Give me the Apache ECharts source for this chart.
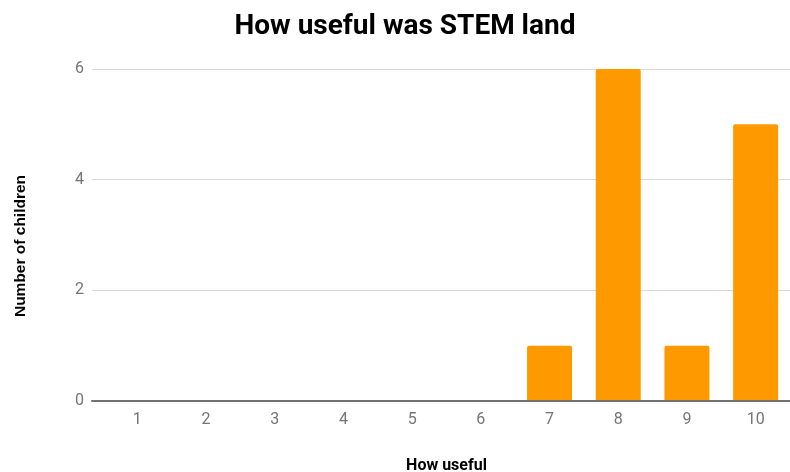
<!DOCTYPE html>
<html>
<head>
<meta charset="utf-8">
<script src="https://cdn.jsdelivr.net/npm/echarts@6/dist/echarts.min.js"></script>
<style>
  html, body { margin: 0; padding: 0; background: #fff; }
  #chart { width: 790px; height: 472px; }
</style>
</head>
<body>
<div id="chart"></div>
<script>
// data
const categories = ['1', '2', '3', '4', '5', '6', '7', '8', '9', '10'];
const childCounts = [0, 0, 0, 0, 0, 0, 1, 6, 1, 5];
const yTicks = [0, 2, 4, 6];

const chart = echarts.init(document.getElementById('chart'));

const option = {
    animation: false,
    textStyle: { fontFamily: 'Roboto' },
    title: {
        text: 'How useful was STEM land',
        left: 400,
        top: 8,
        textAlign: 'center',
        textStyle: { fontFamily: 'Roboto', fontWeight: 'bold', fontSize: 28, color: '#000' }
    },
    grid: [
        // background grid: gridlines and baseline (they start a bit left of the bars)
        { left: 92, right: 0, top: 69, bottom: 71, outerBoundsMode: 'none' },
        // bars
        { left: 103, right: 0, top: 69, bottom: 71, outerBoundsMode: 'none' }
    ],
    xAxis: [
        {
            gridIndex: 0,
            type: 'value',
            min: 0,
            max: 1,
            axisLabel: { show: false },
            axisTick: { show: false },
            splitLine: { show: false },
            axisLine: { show: true, onZero: false, lineStyle: { color: '#737373', width: 2 } },
            z: 5
        },
        {
            gridIndex: 1,
            type: 'category',
            data: categories,
            axisLine: { show: false },
            axisTick: { show: false },
            axisLabel: { color: '#757575', fontSize: 16, margin: 11 },
            name: 'How useful',
            nameLocation: 'middle',
            nameGap: 57,
            nameTextStyle: { color: '#000', fontWeight: 'bold', fontSize: 16 }
        }
    ],
    yAxis: [
        {
            gridIndex: 0,
            type: 'value',
            min: 0,
            max: 6,
            interval: 2,
            axisLine: { show: false },
            axisTick: { show: false },
            axisLabel: {
                color: '#757575', fontSize: 16, margin: 8,
                formatter: v => (yTicks.includes(v) ? String(v) : '')
            },
            splitLine: { lineStyle: { color: '#d9d9d9', width: 1 } },
            name: 'Number of children',
            nameLocation: 'middle',
            nameGap: 63,
            nameTextStyle: {
                color: '#000', fontWeight: 'bold', fontSize: 15.5,
                fontFamily: 'Liberation Sans', padding: [0, 22, 0, 0]
            }
        },
        {
            gridIndex: 1,
            type: 'value',
            min: 0,
            max: 6,
            interval: 2,
            axisLine: { show: false },
            axisTick: { show: false },
            axisLabel: { show: false },
            splitLine: { show: false }
        }
    ],
    series: [{
        type: 'bar',
        xAxisIndex: 1,
        yAxisIndex: 1,
        data: childCounts,
        barWidth: 45,
        itemStyle: { color: '#ff9900', borderRadius: [2, 2, 0, 0] }
    }]
};

chart.setOption(option);
</script>
</body>
</html>
